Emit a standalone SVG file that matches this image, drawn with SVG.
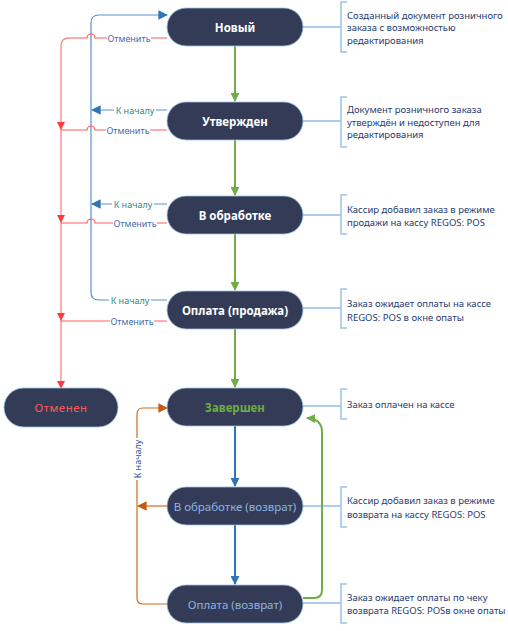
<svg xmlns="http://www.w3.org/2000/svg" width="508" height="631" viewBox="0 0 508 631">
<defs>
<marker id="ag" viewBox="0 0 10 10" refX="9" refY="5" markerWidth="4.5" markerHeight="4.5" orient="auto" markerUnits="strokeWidth"><path d="M0,0 L10,5 L0,10 z" fill="#70ad47"/></marker>
<marker id="ab" viewBox="0 0 10 10" refX="9" refY="5" markerWidth="4.5" markerHeight="4.5" orient="auto" markerUnits="strokeWidth"><path d="M0,0 L10,5 L0,10 z" fill="#2e75b6"/></marker>
<marker id="ab1" viewBox="0 0 10 10" refX="9" refY="5" markerWidth="8" markerHeight="8" orient="auto" markerUnits="strokeWidth"><path d="M0,0 L10,5 L0,10 z" fill="#2e75b6"/></marker>
<marker id="ao" viewBox="0 0 10 10" refX="9" refY="5" markerWidth="8" markerHeight="8" orient="auto" markerUnits="strokeWidth"><path d="M0,0 L10,5 L0,10 z" fill="#c55a11"/></marker>
<path id="rh" d="M-4,-8 L4,-8 L0,0 z" fill="#ff3b3b"/>
</defs>
<style>
.node rect{fill:#333b56;stroke:#9dc3e6;stroke-width:0.8}
.nt{font-family:"Noto Sans","Open Sans",sans-serif;font-size:11.5px;text-anchor:middle;dominant-baseline:central}
.w{fill:#ffffff;font-weight:bold}
.note path.br{fill:none;stroke:#9dc3e6;stroke-width:1.5}
.note line{stroke:#5b9bd5;stroke-width:1}
.note text{font-family:"Noto Sans","Open Sans",sans-serif;font-size:9.5px;fill:#1f3b70}
.g{fill:none;stroke:#70ad47;stroke-width:2}
.b{fill:none;stroke:#2e75b6;stroke-width:2}
.bl{fill:none;stroke:#5b8fd0;stroke-width:1.2}
.r{fill:none;stroke:#ff5c5c;stroke-width:1.2}
.rv{fill:none;stroke:#ff8a8a;stroke-width:1.4}
.o{fill:none;stroke:#d2691e;stroke-width:1.2}
.bg{fill:#ffffff}
.lbl{font-family:"Noto Sans","Open Sans",sans-serif;font-size:9px;text-anchor:middle;dominant-baseline:central}
.lr{fill:#3f6cb0}
.lb{fill:#1f8a8a}
.lo{fill:#2f5597}
</style>

<g id="connectors">
<path class="g" d="M235,46 V101" marker-end="url(#ag)"/>
<path class="g" d="M235,140 V195" marker-end="url(#ag)"/>
<path class="g" d="M235,234 V290" marker-end="url(#ag)"/>
<path class="g" d="M235,329 V387" marker-end="url(#ag)"/>
<path class="b" d="M235,426 V486" marker-end="url(#ab)"/>
<path class="b" d="M235,525 V584" marker-end="url(#ab)"/>
<path class="g" d="M303,598 H314 Q322,598 322,590 V432 Q322,419 307,418" marker-end="url(#ag)"/>

<path class="bl" d="M167,300 H99 Q91,300 91,292 V23 Q91,15 99,15 H167" marker-end="url(#ab1)"/>
<path class="bl" d="M167,110 H92" marker-end="url(#ab1)"/>
<path class="bl" d="M167,204 H92" marker-end="url(#ab1)"/>

<path class="rv" d="M69,38 Q61,38 61,46 V388"/>
<path class="r" d="M167,38 H95 A4,4 0 0 0 87,38 H69"/>
<path class="r" d="M167,130 H95 A4,4 0 0 0 87,130 H61"/>
<path class="r" d="M167,223 H95 A4,4 0 0 0 87,223 H61"/>
<path class="r" d="M167,321 H61"/>
<use href="#rh" x="61" y="130"/>
<use href="#rh" x="61" y="223"/>
<use href="#rh" x="61" y="321"/>
<use href="#rh" x="61" y="389"/>

<path class="o" d="M167,604 H143 Q137,604 137,598 V414 Q137,408 143,408 H167" marker-end="url(#ao)"/>
<path class="o" d="M167,506 H138" marker-end="url(#ao)"/>

<rect class="bg" x="107" y="32" width="44" height="12"/><text class="lbl lr" x="129" y="38">Отменить</text>
<rect class="bg" x="106" y="124" width="44" height="12"/><text class="lbl lr" x="128" y="130">Отменить</text>
<rect class="bg" x="113" y="217" width="44" height="12"/><text class="lbl lr" x="135" y="223">Отменить</text>
<rect class="bg" x="110" y="315" width="44" height="12"/><text class="lbl lr" x="132" y="321">Отменить</text>
<rect class="bg" x="114" y="104" width="42" height="12"/><text class="lbl lb" x="135" y="110">К началу</text>
<rect class="bg" x="112" y="198" width="42" height="12"/><text class="lbl lb" x="133" y="204">К началу</text>
<rect class="bg" x="109" y="294" width="42" height="12"/><text class="lbl lb" x="130" y="300">К началу</text>
<rect class="bg" x="131" y="438" width="12" height="42"/><text class="lbl lo" x="137" y="459" transform="rotate(-90 137 459)">К началу</text>
</g>

<g id="node-new" class="node"><rect x="167" y="8" width="136" height="38" rx="19"/><text class="nt w" x="235" y="27">Новый</text></g>
<g id="node-approved" class="node"><rect x="167" y="102" width="136" height="38" rx="19"/><text class="nt w" x="235" y="121">Утвержден</text></g>
<g id="node-processing" class="node"><rect x="167" y="196" width="136" height="38" rx="19"/><text class="nt w" x="235" y="215">В обработке</text></g>
<g id="node-payment-sale" class="node"><rect x="167" y="291" width="136" height="38" rx="19"/><text class="nt w" x="235" y="310">Оплата (продажа)</text></g>
<g id="node-done" class="node"><rect x="167" y="388" width="136" height="38" rx="19"/><text class="nt" x="235" y="407" fill="#70ad47" font-weight="bold">Завершен</text></g>
<g id="node-processing-return" class="node"><rect x="167" y="487" width="136" height="38" rx="19"/><text class="nt" x="235" y="506" fill="#8eb4e3">В обработке (возврат)</text></g>
<g id="node-payment-return" class="node"><rect x="167" y="585" width="136" height="38" rx="19"/><text class="nt" x="235" y="604" fill="#8eb4e3">Оплата (возврат)</text></g>
<g id="node-cancelled" class="node"><rect x="4" y="388" width="114" height="39" rx="19.5"/><text class="nt" x="61" y="407.5" fill="#ff5a5a" letter-spacing="0.5">Отменен</text></g>

<g id="note-1" class="note"><line x1="303" y1="27" x2="341" y2="27"/><path class="br" d="M347,2 H341 V52 H347"/>
<text x="347" y="18.5">Созданный документ розничного</text><text x="347" y="31">заказа с возможностью</text><text x="347" y="43.5">редактирования</text></g>
<g id="note-2" class="note"><line x1="303" y1="121" x2="341" y2="121"/><path class="br" d="M347,97 H341 V147 H347"/>
<text x="347" y="112.5">Документ розничного заказа</text><text x="347" y="125.5">утверждён и недоступен для</text><text x="347" y="137.5">редактирования</text></g>
<g id="note-3" class="note"><line x1="303" y1="215" x2="341" y2="215"/><path class="br" d="M347,195 H341 V234 H347"/>
<text x="347" y="212.5">Кассир добавил заказ в режиме</text><text x="347" y="225.5">продажи на кассу REGOS: POS</text></g>
<g id="note-4" class="note"><line x1="303" y1="308" x2="341" y2="308"/><path class="br" d="M347,289 H341 V328 H347"/>
<text x="347" y="306.5">Заказ ожидает оплаты на кассе</text><text x="347" y="320.5">REGOS: POS в окне опаты</text></g>
<g id="note-5" class="note"><line x1="303" y1="406" x2="341" y2="406"/><path class="br" d="M347,389 H341 V419 H347"/>
<text x="347" y="407.5">Заказ оплачен на кассе</text></g>
<g id="note-6" class="note"><line x1="303" y1="506" x2="341" y2="506"/><path class="br" d="M347,487 H341 V527 H347"/>
<text x="347" y="503.5">Кассир добавил заказ в режиме</text><text x="347" y="517.5">возврата на кассу REGOS: POS</text></g>
<g id="note-7" class="note"><line x1="303" y1="603" x2="341" y2="603"/><path class="br" d="M347,584 H341 V623 H347"/>
<text x="347" y="600.5">Заказ ожидает оплаты по чеку</text><text x="347" y="613.5">возврата REGOS: POSв окне опаты</text></g>
</svg>
